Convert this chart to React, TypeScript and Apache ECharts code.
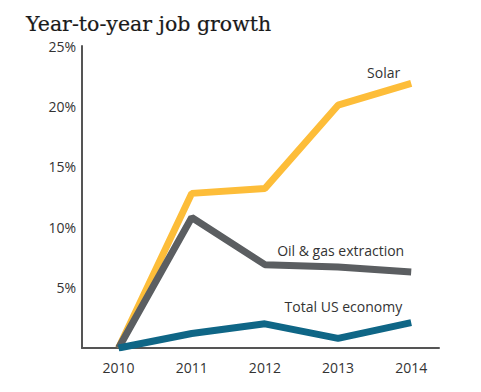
import React, { useEffect, useRef } from "react";
import * as echarts from "echarts";

const years = [2010, 2011, 2012, 2013, 2014];
const solar = [0, 12.8, 13.2, 20.1, 21.9];
const oilGas = [0, 10.8, 6.9, 6.7, 6.3];
const totalUS = [0, 1.2, 2.0, 0.8, 2.1];
const yTicks = [5, 10, 15, 20, 25];
const seriesNames = ["Solar", "Oil & gas extraction", "Total US economy"];
const seriesColors = ["#FDBD39", "#5B5E61", "#0F6686"];

const labelFont = "'Open Sans', 'Noto Sans', sans-serif";

function pairs(vals: number[]) {
  return vals.map((v, i) => [years[i], v]);
}

export default function App() {
  const ref = useRef<HTMLDivElement>(null);
  useEffect(() => {
    if (!ref.current) return;
    const chart = echarts.init(ref.current, null, { renderer: "svg" });
    const allSeries = [solar, oilGas, totalUS];
    chart.setOption({
      animation: false,
      title: {
        text: "Year-to-year job growth",
        left: 21,
        top: 8,
        textStyle: {
          fontFamily: "'DejaVu Serif', serif",
          fontWeight: "normal",
          fontSize: 20.5,
          color: "#1a1a1a",
          textBorderColor: "#1a1a1a",
          textBorderWidth: 0.2,
        },
      },
      grid: { left: 82, right: 42, top: 46, bottom: 44 },
      xAxis: {
        type: "value",
        min: 2009.5,
        max: 2014.38,
        axisLine: { show: true, lineStyle: { color: "#555", width: 2 } },
        axisTick: { show: false },
        splitLine: { show: false },
        axisLabel: {
          customValues: years,
          margin: 12,
          color: "#333",
          fontSize: 14,
          fontFamily: labelFont,
          formatter: (v: number) => String(v),
        },
      },
      yAxis: {
        type: "value",
        min: 0,
        max: 25,
        interval: 5,
        axisLine: { show: true, lineStyle: { color: "#555", width: 2 } },
        axisTick: { show: false },
        splitLine: { show: false },
        axisLabel: {
          customValues: yTicks,
          margin: 6,
          color: "#333",
          fontSize: 14,
          fontFamily: labelFont,
          formatter: (v: number) => (v === 0 ? "" : v + "%"),
        },
      },
      series: allSeries.map((vals, i) => ({
        type: "line",
        name: seriesNames[i],
        data: pairs(vals),
        symbol: "none",
        lineStyle: { color: seriesColors[i], width: 7 },
        itemStyle: { color: seriesColors[i] },
        z: 2 + i,
      })),
    });
    // End labels placed from the data through the chart's own scales
    const labelOffsets = [
      [-11, -11],
      [-7, -21],
      [-9, -16],
    ];
    const graphics = allSeries.map((vals, i) => {
      const last = vals.length - 1;
      const p = chart.convertToPixel({ gridIndex: 0 }, [years[last], vals[last]]);
      return {
        type: "text",
        x: p[0] + labelOffsets[i][0],
        y: p[1] + labelOffsets[i][1],
        style: {
          text: seriesNames[i],
          align: "right",
          verticalAlign: "middle",
          fill: "#333",
          fontSize: 14,
          fontFamily: labelFont,
        },
        z: 10,
      };
    });
    chart.setOption({ graphic: graphics });
    return () => chart.dispose();
  }, []);
  return <div ref={ref} style={{ width: 481, height: 392, position: "absolute", left: 0, top: 0 }} />;
}
